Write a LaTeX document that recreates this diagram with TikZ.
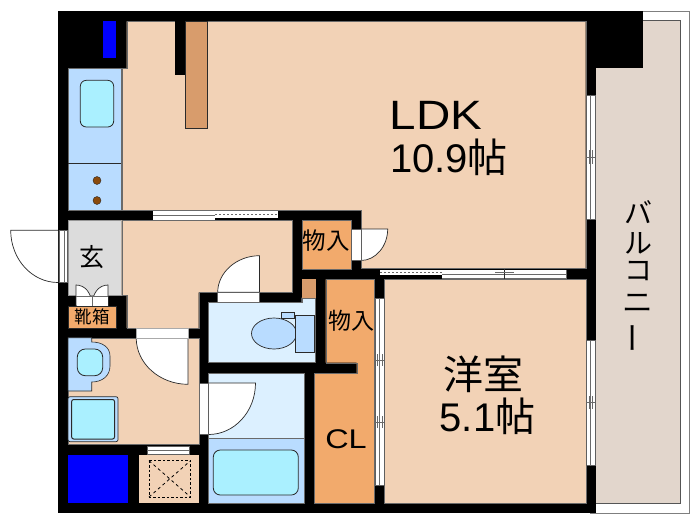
\documentclass[tikz,border=0pt]{standalone}
\usepackage{fontspec}
\setmainfont{Liberation Sans}
\newfontfamily\jp{Noto Sans CJK JP}
\definecolor{ldk}{HTML}{F2D2B6}
\definecolor{wood}{HTML}{D89C6C}
\definecolor{store}{HTML}{F2AA6C}
\definecolor{wet}{HTML}{B9DCFF}
\definecolor{pale}{HTML}{DCF0FF}
\definecolor{aqua}{HTML}{AAF0FF}
\definecolor{stone}{HTML}{E2D6CC}
\definecolor{hallg}{HTML}{DCDCDC}
\definecolor{burner}{HTML}{8A4A0C}
\definecolor{ink}{HTML}{2A2A2A}
\tikzset{
  wall/.style={fill=black,draw=none},
  room/.style={fill=ldk,draw=ink!70,line width=.4pt},
  wetroom/.style={fill=wet,draw=ink!70,line width=.4pt},
  paleroom/.style={fill=pale,draw=ink!70,line width=.4pt},
  closet/.style={fill=store,draw=ink!70,line width=.4pt},
  fixture/.style={fill=aqua,draw=ink,line width=.8pt,rounded corners=6pt},
  glass/.style={fill=white,draw=ink!75,line width=.6pt},
  glassline/.style={draw=ink!70,line width=.6pt},
  doorleaf/.style={fill=white,draw=ink,line width=.7pt},
  lab/.style={inner sep=0pt,outer sep=0pt,text=black,align=center},
}
\begin{document}
\begin{tikzpicture}[x=1pt,y=-1pt]
\useasboundingbox (0,0) rectangle (700,525);
\fill[white] (0,0) rectangle (700,525);
% balcony
\draw[fill=white,draw=ink!60,line width=.8pt] (590,11) -- (689.3,11) -- (689.3,513.3) -- (590,513.3);
\draw[fill=stone,draw=ink!80,line width=.7pt] (590,20.7) rectangle (680,503.3);
% walls
\fill[wall] (57.5,11) rectangle (595.7,513.3);
\fill[wall] (585,11) rectangle (642.7,68);
% LDK
\path[room] (126.7,21.3) -- (585.7,21.3) -- (585.7,268.3) -- (361,268.3) -- (361,210) -- (121.7,210) -- (121.7,68.3) -- (126.7,68.3) -- cycle;
\fill[wall] (175,20) rectangle (185,75);
\draw[fill=wood,draw=ink,line width=.5pt] (185.5,21.3) rectangle (207.5,128);
\fill[blue] (103,21.3) rectangle (116,58);
% kitchen
\path[wetroom] (68,68.3) rectangle (120.7,210);
\draw[ink,line width=.6pt] (68,163.7) -- (120.7,163.7);
\path[fixture] (80.3,80.3) rectangle (113.7,127);
\draw[fill=burner,draw=ink,line width=.4pt] (97,180.5) circle (4);
\draw[fill=burner,draw=ink,line width=.4pt] (97,200.5) circle (4);
% sliding door LDK/hall
\fill[white] (153,211.3) rectangle (215,220);
\fill[white] (215,211.3) rectangle (277.5,217.5);
\draw[glassline] (153,215.5) -- (215,215.5);
\draw[glassline,dash pattern=on 2pt off 2pt] (215,214.3) -- (277.5,214.3);
% entrance
\path[fill=hallg,draw=ink!50,line width=.4pt] (68,220) rectangle (120.7,295);
% hall
\path[room] (121.7,220) -- (292.3,220) -- (292.3,292.3) -- (198.7,292.3) -- (198.7,328) -- (126.7,328) -- (126.7,295) -- (121.7,295) -- cycle;
% entrance door
\draw[fill=white,draw=ink,line width=.7pt] (58,230.3) -- (10.7,230.3) .. controls (10.7,259) and (31.8,282.5) .. (58,282.5);
\draw[glass] (59,230.3) rectangle (67.7,282.5);
\draw[glassline] (64.5,230.3) -- (64.5,282.5);
% shoe doors
\draw[doorleaf] (76,306) -- (76,285) .. controls (85,285) and (92,293) .. (92,306) -- cycle;
\draw[doorleaf] (108,306) -- (108,285) .. controls (99,285) and (92,293) .. (92,306) -- cycle;
\fill[white] (76.5,296) rectangle (107.5,305.5);
\draw[glassline] (76,296) -- (108,296) (92,296) -- (92,306);
\path[closet,draw=ink] (68,306.3) rectangle (116,327.7);
% toilet door
\draw[doorleaf] (259.5,292.3) -- (259.5,255.7) .. controls (236.7,255.7) and (217.7,272.4) .. (217.7,292.3) -- cycle;
\draw[glass] (217.7,292.3) rectangle (259.5,302.5);
% store 1
\path[closet] (302.3,220.3) rectangle (351,269);
\draw[doorleaf] (361,229) -- (387.7,229) .. controls (387.7,246) and (375.7,260.5) .. (361,260.5) -- cycle;
\draw[glass] (351.7,229) rectangle (361,260.5);
% closet
\path[closet] (325.7,279.3) -- (374,279.3) -- (374,503.3) -- (314,503.3) -- (314,373.3) -- (356.7,373.3) -- (356.7,362.7) -- (325.7,362.7) -- cycle;
% toilet
\path[paleroom] (208.5,302.5) -- (301.7,302.5) -- (301.7,297.7) -- (315.5,297.7) -- (315.5,362.5) -- (208.5,362.5) -- cycle;
\draw[fill=wood,draw=none] (302.2,279.3) rectangle (315.5,297.5);
\draw[fill=wet,draw=ink,line width=.7pt] (274,333.5) ellipse [x radius=22.5,y radius=15.5];
\draw[fill=wet,draw=ink,line width=.7pt] (281.5,312.3) rectangle (294.5,318.5);
\draw[fill=wet,draw=ink,line width=.7pt] (295,315) rectangle (314,352);
% bath
\path[paleroom] (208.5,373.3) rectangle (304,438.3);
\path[wetroom] (208.5,438.3) rectangle (304,503.3);
\path[fixture,rounded corners=7pt] (213.3,450) rectangle (298.3,495);
\draw[doorleaf] (208.5,383) -- (255.5,383) .. controls (255.5,411.6) and (234.4,434.5) .. (208.5,434.5) -- cycle;
\draw[glass] (199,383) rectangle (208.5,434.5);
% washroom
\path[room] (68,337.7) rectangle (198.7,444.3);
\draw[doorleaf] (188,337.7) -- (188,384.3) .. controls (159.7,384.3) and (136.2,363.6) .. (136.2,337.7) -- cycle;
\draw[fill=white,draw=ink!40,line width=.4pt] (136.2,328) rectangle (188,337.7);
\draw[fill=wet,draw=ink,line width=.6pt] (68,337.7) -- (91.7,337.7) -- (91.7,342) .. controls (102,342) and (110,347) .. (110,356) -- (110,366) .. controls (110,376) and (102,382) .. (91.7,382) -- (91.7,391) -- (68,391) -- cycle;
\path[fixture,rounded corners=8pt] (77.3,349) rectangle (102.7,375.7);
\draw[fill=wet,draw=ink,line width=.7pt,rounded corners=2pt] (68,396.7) rectangle (118,441.7);
\path[fixture,line width=1pt,rounded corners=2pt] (71.7,399.5) rectangle (114.5,439);
% bottom left
\fill[blue] (68,455) rectangle (127.7,503.3);
\fill[ldk] (138.5,455) rectangle (198.7,503.3);
\draw[black,line width=.8pt,dash pattern=on 2.5pt off 2pt] (149,460.7) rectangle (190.5,497);
\draw[black,line width=.8pt,dash pattern=on 3pt off 3pt] (149,460.7) -- (190.5,497) (149,497) -- (190.5,460.7);
\draw[glass] (147.3,446) rectangle (189,454.5);
\draw[glassline] (147.3,450.2) -- (189,450.2);
% bedroom
\path[room] (384.5,279.3) rectangle (585.7,503.3);
\draw[glass] (375,298.3) rectangle (384.3,485);
\draw[glassline] (379.7,298.3) -- (379.7,485);
\draw[glassline] (375,360) -- (384.3,360) (377,354) -- (377,366) (382,354) -- (382,366);
\draw[glassline] (375,422) -- (384.3,422) (377,416) -- (377,428) (382,416) -- (382,428);
% windows to balcony
\draw[glass] (586,95) rectangle (595,219);
\draw[glassline] (590.5,95) -- (590.5,219);
\draw[glassline] (586,157) -- (595,157) (589,150) -- (589,164) (592,150) -- (592,164);
\draw[glass] (586,340.7) rectangle (595,465.7);
\draw[glassline] (590.5,340.7) -- (590.5,465.7);
\draw[glassline] (586,402) -- (595,402) (589,396) -- (589,409) (592,396) -- (592,409);
% sliding door LDK/bedroom
\fill[white] (380,270) rectangle (442.3,275);
\fill[white] (442.3,270) rectangle (566.7,278.3);
\draw[glassline,dash pattern=on 2pt off 2pt] (380,272.5) -- (442.3,272.5);
\draw[glassline] (442.3,274) -- (566.7,274) (442.3,278.3) -- (566.7,278.3) (566.7,270) -- (566.7,278.3);
\draw[ink,line width=.8pt] (504.3,269) -- (504.3,279);
\draw[glassline] (495,272) -- (514,272);
% labels
\node[lab,xscale=1.16] (ldk) at (436,115) {\fontsize{41}{41}\selectfont LDK};
\node[lab] (ldkarea) at (449,157.5) {\fontsize{40}{40}\selectfont 10.9{\jp 帖}};
\node[lab] (yoshitsu) at (483,374) {\jp\fontsize{40}{40}\selectfont 洋室};
\node[lab] (yoarea) at (487.5,416.5) {\fontsize{40}{40}\selectfont 5.1{\jp 帖}};
\node[lab,xscale=1.2] (cl) at (346,439) {\fontsize{27}{27}\selectfont CL};
\node[lab] (mono1) at (326,241) {\jp\fontsize{23.5}{23.5}\selectfont 物入};
\node[lab] (mono2) at (351,321) {\jp\fontsize{23}{23}\selectfont 物入};
\node[lab] (gen) at (92,257) {\jp\fontsize{25}{25}\selectfont 玄};
\node[lab] (kutsu) at (92,317) {\jp\fontsize{17.5}{17.5}\selectfont 靴箱};
\node[lab] (ba) at (638,212) {\jp\fontsize{28}{28}\selectfont バ};
\node[lab] (ru) at (638,243) {\jp\fontsize{28}{28}\selectfont ル};
\node[lab] (ko) at (638,271) {\jp\fontsize{28}{28}\selectfont コ};
\node[lab,xscale=1.1] (ni) at (638,303) {\jp\fontsize{28}{28}\selectfont ニ};
\node[lab,rotate=90] (bar) at (638,338) {\jp\fontsize{31}{31}\selectfont ー};
\end{tikzpicture}
\end{document}
